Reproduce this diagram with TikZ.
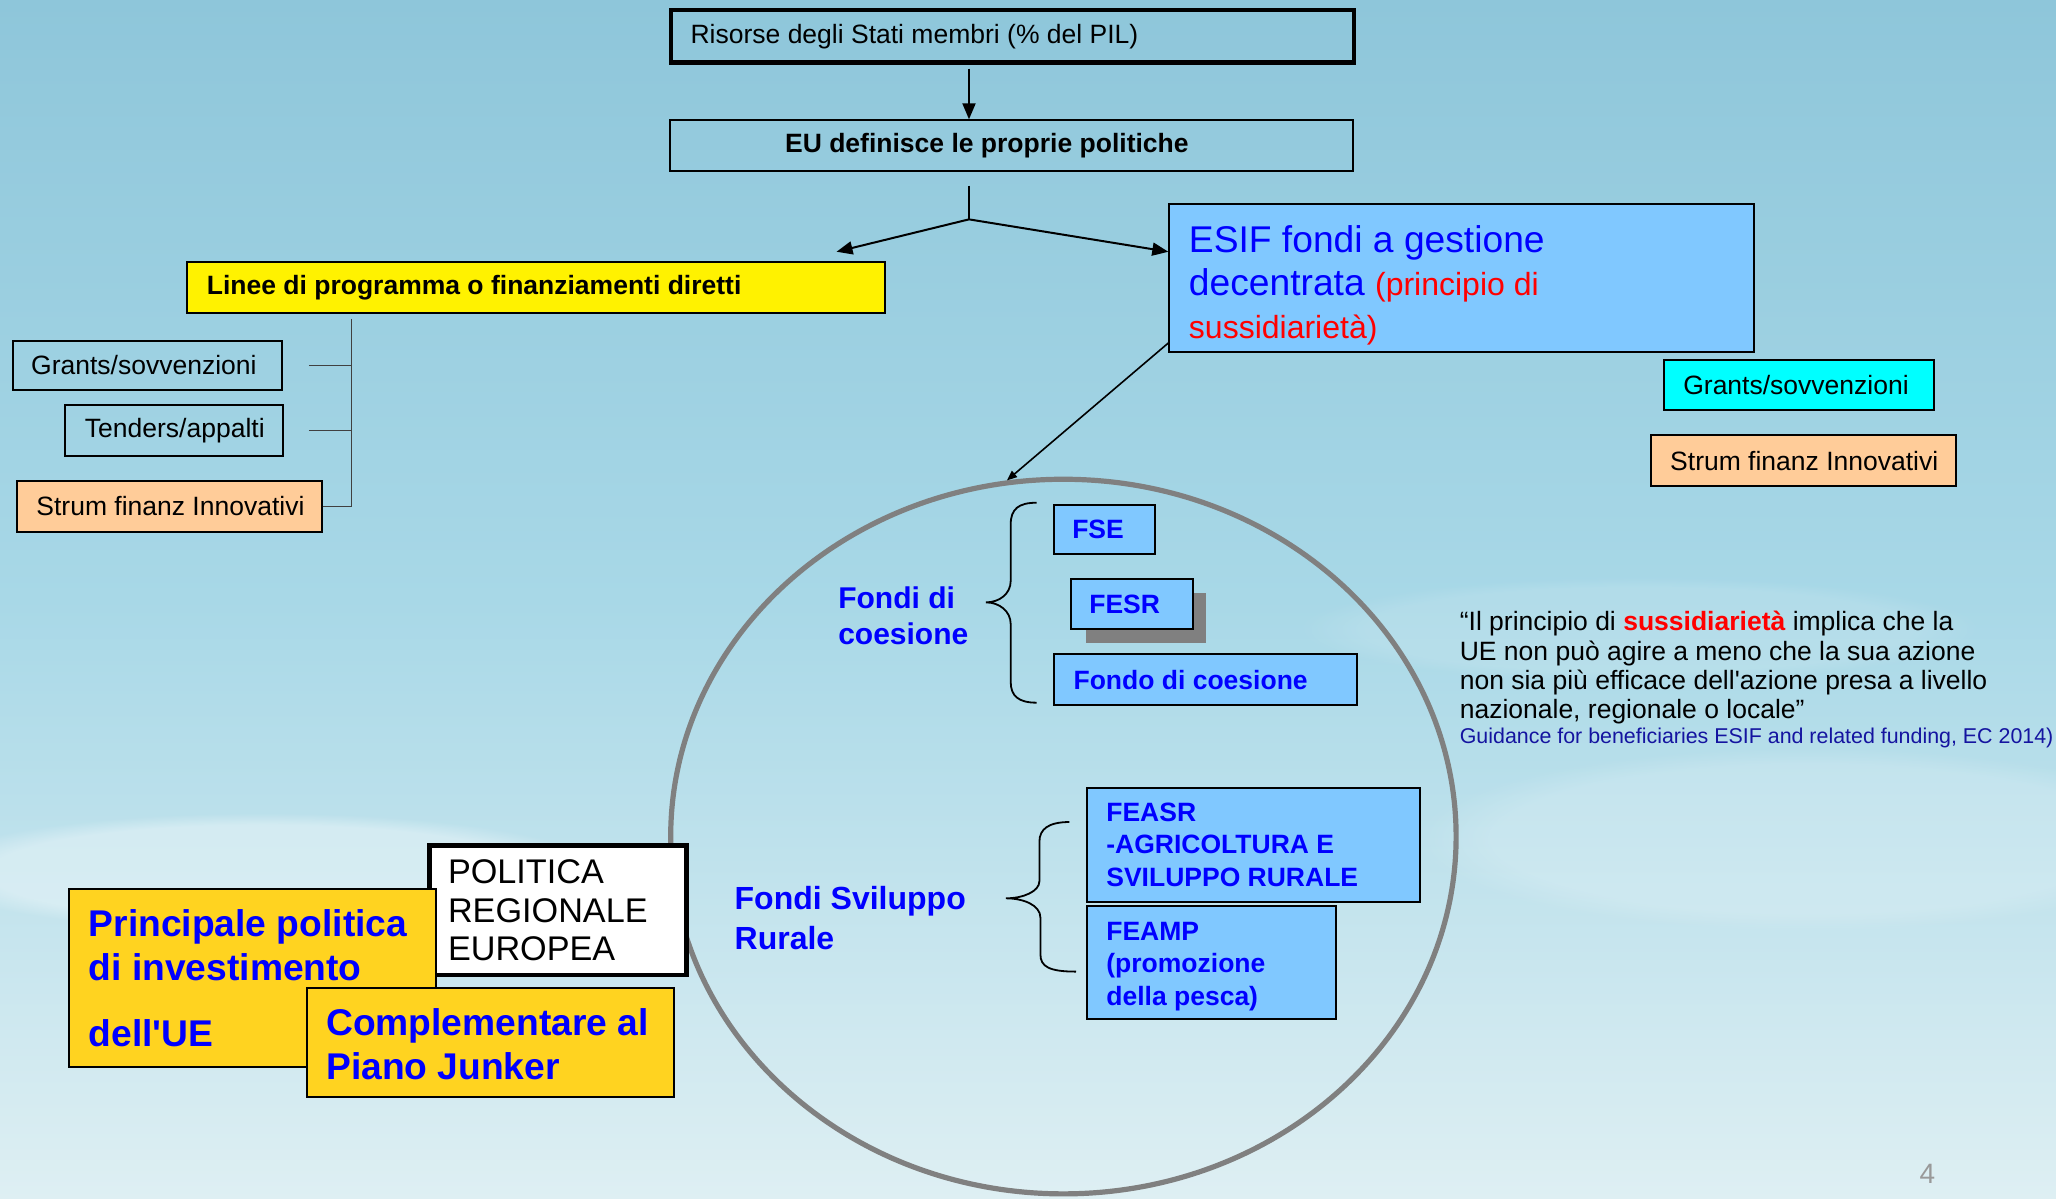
\documentclass[tikz,border=0pt]{standalone}
\usepackage{fontspec}
\setmainfont{Liberation Sans}[Ligatures=TeXOff]
\usetikzlibrary{arrows.meta,shapes.geometric,fadings}
\definecolor{bgtop}{RGB}{142,198,218}
\definecolor{bgmid}{RGB}{168,216,231}
\definecolor{bgbot}{RGB}{222,239,243}
\definecolor{lblue}{RGB}{128,200,255}
\definecolor{gold}{RGB}{255,211,32}
\definecolor{peach}{RGB}{255,204,153}
\definecolor{cyanbox}{RGB}{0,255,255}
\definecolor{navyb}{RGB}{20,20,160}
\definecolor{tblue}{RGB}{0,0,255}
\definecolor{ringgray}{RGB}{128,128,128}
\newcommand\fsz[2]{\fontsize{#1}{#2}\selectfont}
\newcommand\natsp{\spaceskip=0pt\relax\xspaceskip=0pt\relax}
\newcommand\ebox[8]{%
 \pgfmathsetmacro\eboxw{#5*0.6556}%
 \pgfmathsetmacro\eboxh{#6*0.6556}%
 \pgfmathsetmacro\eboxp{#7*0.6556}%
 \node[#1, anchor=north west, minimum width=\eboxw pt, minimum height=\eboxh pt, text width=\eboxw pt, inner xsep=0pt, inner ysep=0pt, align=left] (#2) at (#3,#4) {\natsp\leftskip=\eboxp pt\relax #8\par};%
}
\begin{document}
\begin{tikzpicture}[x=0.6556pt,y=-0.6556pt,
 bxn/.style={draw=black, line width=1pt, font=\fsz{13.25}{16}},
 bxthick/.style={draw=black, line width=2.2pt, font=\fsz{13.25}{16}},
 bxb/.style={draw=black, line width=1pt, fill=lblue, font=\bfseries\fsz{13.25}{16.1}, text=tblue},
 arr/.style={-{Triangle[length=8pt,width=6.5pt]}, line width=1pt},
 tick/.style={draw=black!75, line width=0.6pt},
 lbl/.style={text=tblue, font=\bfseries, align=left, inner sep=0pt, anchor=west},
 cloud/.style={fill=white, path fading=circle with fuzzy edge 20 percent}]
\useasboundingbox (0,0) rectangle (1568,914);
\shade[top color=bgtop, bottom color=bgbot, middle color=bgmid] (0,0) rectangle (1568,914);
\fill[cloud, opacity=0.35] (200,665) ellipse (260 and 45);
\fill[cloud, opacity=0.18] (1380,640) ellipse (300 and 70);
\fill[cloud, opacity=0.12] (1250,480) ellipse (260 and 40);

% big ring
\node[draw=ringgray, line width=2.6pt, ellipse, minimum width=392.7pt, minimum height=357.3pt, inner sep=0pt] (circ) at (811,638) {};

% top chain
\ebox{bxthick}{risorse}{510}{6}{521}{40}{15}{Risorse degli Stati membri (\% del PIL)}
\ebox{bxn, font=\bfseries\fsz{13.25}{16}}{eu}{510}{91}{521}{39}{88}{EU definisce le proprie politiche}
\ebox{bxn, fill=yellow, font=\bfseries\fsz{13.25}{16}}{linee}{142}{199}{532}{39}{15}{Linee di programma o finanziamenti diretti}

% left group
\ebox{bxn}{grantsL}{9}{259}{205}{38}{14}{Grants/sovvenzioni}
\ebox{bxn}{tendersL}{49}{308}{166}{39}{15}{Tenders/appalti}
\ebox{bxn, fill=peach}{strumL}{12}{366}{233}{39}{15}{Strum finanz Innovativi}

% ESIF
\ebox{bxn, fill=lblue, font=\fsz{18.6}{21.3}}{esif}{891}{155}{446}{113}{15}{\rule{0pt}{20.4pt}\textcolor{tblue}{ESIF fondi a gestione}\\ \textcolor{tblue}{decentrata} {\color{red}\fsz{16}{21.3}(principio di}\\ {\color{red}\fsz{16}{21.3}sussidiarietà)}}
\ebox{bxn, fill=cyanbox}{grantsR}{1268}{274}{206}{38}{15}{Grants/sovvenzioni}
\ebox{bxn, fill=peach}{strumR}{1258}{331}{233}{39}{15}{Strum finanz Innovativi}

% funds inside ring
\ebox{bxb}{fse}{803}{384}{77}{38}{14}{FSE}
\fill[ringgray] (828,452) rectangle (920,490);
\ebox{bxb}{fesr}{816}{441}{93}{38}{14}{FESR}
\ebox{bxb}{fondo}{803}{498}{231}{39}{15}{Fondo di coesione}
\ebox{bxb}{feasr}{828}{600}{254}{87}{15}{FEASR\\-AGRICOLTURA E\\SVILUPPO RURALE}
\ebox{bxb}{feamp}{828}{690}{190}{86}{15}{\rule{0pt}{13.6pt}FEAMP\\(promozione\\della pesca)}

\node[lbl, font=\bfseries\fsz{15}{17.7}] (fcoes) at (639,469.5) {Fondi di\\coesione};
\node[lbl, font=\bfseries\fsz{16}{19.7}] (fsr) at (560,700) {Fondi Sviluppo\\Rurale};

% braces
\draw[line width=0.9pt] (790.6,383.4) .. controls (777,383.4) and (770.8,388) .. (770.8,400) -- (770.8,443) .. controls (770.8,453) and (762,459.4) .. (752,459.4) .. controls (762,459.4) and (770.8,466) .. (770.8,476) -- (770.8,520) .. controls (770.8,531) and (777,535.9) .. (790.6,535.9);
\draw[line width=0.9pt] (815.5,626.9) .. controls (800,627) and (792.7,632) .. (792.7,642) -- (792.7,672) .. controls (792.7,680) and (780,685.1) .. (767.2,685.1) .. controls (780,685.1) and (793.5,690) .. (793.5,700) -- (793.5,728) .. controls (793.5,737) and (800,741) .. (820.6,741);

% bottom-left boxes
\ebox{draw=black, line width=2.2pt, fill=white, font=\fsz{17.1}{19}}{politica}{326}{643}{196}{99}{14}{POLITICA\\REGIONALE\\EUROPEA}
\ebox{draw=black, line width=1pt, fill=gold, text=tblue, font=\bfseries\fsz{18.6}{22.3}}{principale}{52}{677}{280}{136}{15}{Principale politica\\di investimento\\[10.5pt]dell'UE}
\ebox{draw=black, line width=1pt, fill=gold, text=tblue, font=\bfseries\fsz{18.6}{22.3}}{compl}{233}{753}{280}{83}{15}{\rule{0pt}{15pt}Complementare al\\Piano Junker}

% quote
\node[anchor=base west, text width=310pt, inner sep=0pt, align=left, font=\fsz{13.25}{14.7}] (quote) at (1113,481) {\natsp “Il principio di \textcolor{red}{\textbf{sussidiarietà}} implica che la\\UE non può agire a meno che la sua azione\\non sia più efficace dell'azione presa a livello\\nazionale, regionale o locale”\\[-2.5pt]\mbox{\color{navyb}\fsz{10.7}{12.2}\natsp Guidance for beneficiaries ESIF and related funding, EC 2014)}\par};

\node[text=black!40, font=\fsz{14}{16}, inner sep=0pt] (pnum) at (1470,895) {4};

% connectors
\coordinate (split) at (739,167.3);
\coordinate (stem) at (739,141.5);
\coordinate (ltip) at (638,192);
\draw[arr, shorten <=2pt] (split |- risorse.south) -- (split |- eu.north);
\draw[line width=1pt] (stem) -- (split);
\draw[arr] (split) -- (ltip);
\draw[arr] (split) -- (esif.west |- ltip);
\draw[line width=0.8pt, -{Triangle[length=5pt,width=4pt]}] ([yshift=5.2pt]esif.south west) -- (circ.99.4);

\coordinate (lk) at (268,243);
\draw[tick] (lk) |- (strumL.east);
\draw[tick] ([xshift=13.1pt]grantsL.east) -- (lk |- grantsL.east);
\draw[tick] ([xshift=12.5pt]tendersL.east) -- (lk |- tendersL.east);
\end{tikzpicture}
\end{document}
